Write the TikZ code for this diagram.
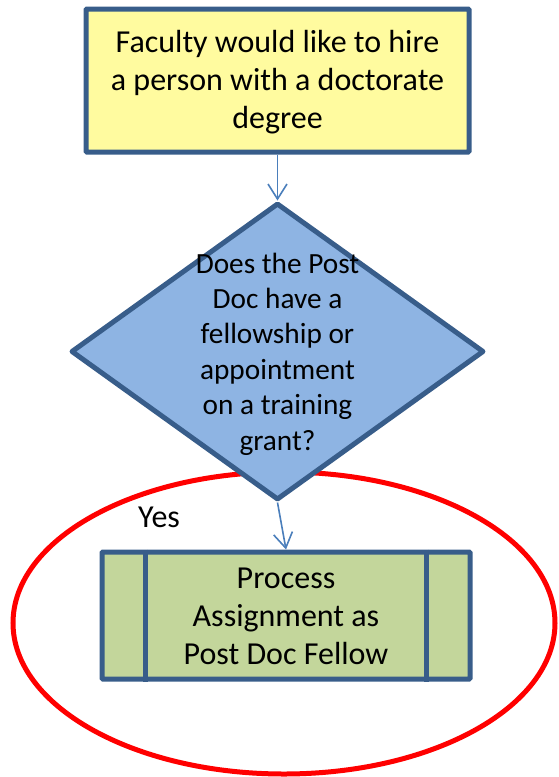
\documentclass[tikz,border=0pt]{standalone}
\usepackage{fontspec}
\setmainfont{Carlito}
\usetikzlibrary{shapes.geometric,arrows.meta}
\definecolor{edgeblue}{HTML}{385D8A}
\definecolor{arrowblue}{HTML}{4A7EBB}
\definecolor{boxyellow}{HTML}{FFFB9F}
\definecolor{diamblue}{HTML}{8EB4E3}
\definecolor{boxgreen}{HTML}{C3D69B}
\definecolor{ringred}{HTML}{FF0000}
\tikzset{
  x=1pt, y=-1pt,
  startbox/.style={draw=edgeblue, fill=boxyellow, line width=5pt, rectangle, rounded corners=1pt,
    minimum width=383pt, minimum height=143pt, inner sep=0pt},
  decision/.style={draw=edgeblue, fill=diamblue, line width=5pt, diamond, line join=round,
    minimum width=413pt, minimum height=297pt, inner sep=0pt},
  procbox/.style={draw=edgeblue, fill=boxgreen, line width=5pt, rectangle, rounded corners=1pt,
    minimum width=368pt, minimum height=127pt, inner sep=0pt},
  bigtext/.style={align=center, inner sep=0pt, font=\fontsize{32}{38}\selectfont},
  qtext/.style={align=center, inner sep=0pt, font=\fontsize{29.3}{35.4}\selectfont},
  flow/.style={draw=arrowblue, line width=1.6pt, -{Straight Barb[length=15pt,width=19pt,line width=1.6pt]}},
  ring/.style={draw=ringred, line width=5pt},
}
\begin{document}
\begin{tikzpicture}
\useasboundingbox (0,0) rectangle (558,777);
% red ellipse
\draw[ring] (284,623) ellipse [x radius=271pt, y radius=151pt];
% start box
\node[startbox] (start) at (277.5,80.5) {};
\node[bigtext, anchor=base] (starttext) at (277.5,128) {Faculty would like to hire\\a person with a doctorate\\degree};
% decision
\node[decision] (q) at (277.5,351.5) {};
\node[qtext, anchor=base] (qtxt) at (277.5,450) {Does the Post\\Doc have a\\fellowship or\\appointment\\on a training\\grant?};
% process box
\node[procbox] (proc) at (286,615.5) {};
\draw[edgeblue, line width=5pt] ([xshift=46pt]proc.north west) -- ([xshift=46pt]proc.south west);
\draw[edgeblue, line width=5pt] ([xshift=-46pt]proc.north east) -- ([xshift=-46pt]proc.south east);
\node[bigtext, anchor=base] (proctext) at (286,664) {Process\\Assignment as\\Post Doc Fellow};
% arrows
\draw[flow] (start.south) -- (q.north);
\draw[flow] (q.south) -- (proc.north);
% label
\node[bigtext, anchor=base west] (yes) at (138,527) {Yes};
\end{tikzpicture}
\end{document}
